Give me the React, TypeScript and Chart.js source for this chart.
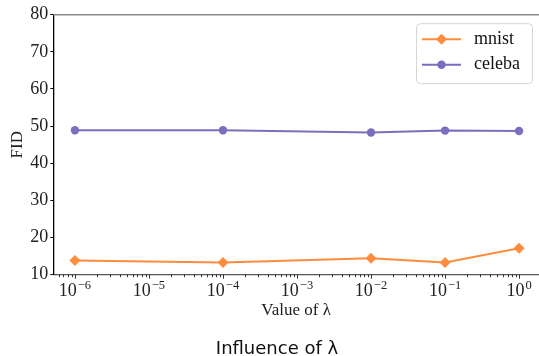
import React, { useEffect, useRef } from "react";
import { Chart, registerables } from "chart.js";

Chart.register(...registerables);

const lambdaValues = [1e-6, 1e-4, 1e-2, 1e-1, 1];
const mnistFid = [13.8, 13.3, 14.4, 13.3, 17.1];
const celebaFid = [48.9, 48.9, 48.3, 48.8, 48.7];
const seriesNames = ["mnist", "celeba"];
const majorTickValues = [1e-6, 1e-5, 1e-4, 1e-3, 1e-2, 1e-1, 1];
const xTickExponents = ["−6", "−5", "−4", "−3", "−2", "−1", "0"];
const minorMultipliers = [2, 3, 4, 5, 6, 7, 8, 9];
const minorDecades = [1e-7, 1e-6, 1e-5, 1e-4, 1e-3, 1e-2, 1e-1, 1];
const yTicks = [10, 20, 30, 40, 50, 60, 70, 80];

const ORANGE = "#ff8c3d";
const PURPLE = "#7a6ebd";
const SERIF = "'Liberation Serif', 'DejaVu Serif', serif";
const SANS = "'DejaVu Sans', sans-serif";

const X_MIN = 5.1e-7;
const X_MAX = 1.86;

const decorPlugin = {
  id: "decor",
  afterDraw(chart: any) {
    const ctx = chart.ctx;
    const area = chart.chartArea;
    const xs = chart.scales.x;
    ctx.save();
    // top spine
    ctx.strokeStyle = "#8a8a8a";
    ctx.lineWidth = 1.5;
    ctx.beginPath();
    ctx.moveTo(area.left, area.top);
    ctx.lineTo(area.right, area.top);
    ctx.stroke();
    // x ticks (major & minor)
    ctx.strokeStyle = "#333";
    ctx.lineWidth = 1;
    for (const t of xs.ticks) {
      const px = xs.getPixelForValue(t.value);
      if (px < area.left + 1 || px > area.right) continue;
      const len = t.major ? 4 : 2.5;
      ctx.beginPath();
      ctx.moveTo(Math.round(px) + 0.5, area.bottom);
      ctx.lineTo(Math.round(px) + 0.5, area.bottom + len);
      ctx.stroke();
    }
    // x tick labels 10^k
    ctx.fillStyle = "#222";
    ctx.textBaseline = "alphabetic";
    ctx.textAlign = "left";
    majorTickValues.forEach((v, i) => {
      const px = xs.getPixelForValue(v);
      ctx.font = `18px ${SERIF}`;
      const wb = ctx.measureText("10").width;
      ctx.font = `12.5px ${SERIF}`;
      const we = ctx.measureText(xTickExponents[i]).width;
      const x0 = px - (wb + we + 1) / 2;
      ctx.font = `18px ${SERIF}`;
      ctx.fillText("10", x0, area.bottom + 21);
      ctx.font = `12.5px ${SERIF}`;
      ctx.fillText(xTickExponents[i], x0 + wb + 1, area.bottom + 14);
    });
    // legend
    const bx = area.right - 123;
    const by = area.top + 8.5;
    const bw = 116;
    const bh = 60;
    ctx.fillStyle = "rgba(255,255,255,0.9)";
    ctx.strokeStyle = "#d6d6d6";
    ctx.lineWidth = 1;
    ctx.beginPath();
    (ctx as any).roundRect(bx + 0.5, by + 0.5, bw, bh, 4);
    ctx.fill();
    ctx.stroke();
    chart.data.datasets.forEach((ds: any, i: number) => {
      const cy = by + 16 + i * 25.5;
      const x0 = bx + 6;
      const x1 = bx + 45;
      ctx.strokeStyle = ds.borderColor;
      ctx.lineWidth = 2;
      ctx.beginPath();
      ctx.moveTo(x0, cy);
      ctx.lineTo(x1, cy);
      ctx.stroke();
      ctx.fillStyle = ds.backgroundColor;
      ctx.beginPath();
      const cx = (x0 + x1) / 2;
      if (ds.pointStyle === "rectRot") {
        const r = ds.pointRadius;
        ctx.moveTo(cx, cy - r);
        ctx.lineTo(cx + r, cy);
        ctx.lineTo(cx, cy + r);
        ctx.lineTo(cx - r, cy);
        ctx.closePath();
      } else {
        ctx.arc(cx, cy, ds.pointRadius, 0, Math.PI * 2);
      }
      ctx.fill();
      ctx.fillStyle = "#111";
      ctx.font = `18px ${SERIF}`;
      ctx.textAlign = "left";
      ctx.textBaseline = "middle";
      ctx.fillText(ds.label, bx + 58, cy);
    });
    // bottom title
    ctx.fillStyle = "#111";
    ctx.font = `18px ${SANS}`;
    ctx.textAlign = "center";
    ctx.textBaseline = "alphabetic";
    ctx.fillText("Influence of λ", 277, 354);
    ctx.restore();
  },
};

export default function App() {
  const ref = useRef<HTMLCanvasElement | null>(null);
  useEffect(() => {
    if (!ref.current) return;
    const chart = new Chart(ref.current, {
      type: "line",
      data: {
        datasets: [
          {
            label: seriesNames[0],
            data: lambdaValues.map((x, i) => ({ x, y: mnistFid[i] })),
            borderColor: ORANGE,
            backgroundColor: ORANGE,
            borderWidth: 2,
            pointStyle: "rectRot",
            pointRadius: 5.5,
            pointBorderWidth: 0,
            tension: 0,
          },
          {
            label: seriesNames[1],
            data: lambdaValues.map((x, i) => ({ x, y: celebaFid[i] })),
            borderColor: PURPLE,
            backgroundColor: PURPLE,
            borderWidth: 2,
            pointStyle: "circle",
            pointRadius: 4.2,
            pointBorderWidth: 0,
            tension: 0,
          },
        ],
      },
      options: {
        responsive: false,
        animation: false,
        layout: { autoPadding: false, padding: { top: 14.7, bottom: 33, left: 0, right: 0 } },
        plugins: {
          legend: { display: false },
          tooltip: { enabled: false },
          title: { display: false },
        },
        scales: {
          x: {
            type: "logarithmic",
            min: X_MIN,
            max: X_MAX,
            afterBuildTicks(scale: any) {
              const ticks: any[] = [];
              for (const d of minorDecades) {
                for (const m of [1, ...minorMultipliers]) {
                  const v = d * m;
                  if (v >= X_MIN && v <= X_MAX) ticks.push({ value: v, major: m === 1 });
                }
              }
              scale.ticks = ticks;
            },
            afterFit(scale: any) {
              scale.height = 48.3;
              scale.paddingLeft = 0;
              scale.paddingRight = 0;
            },
            grid: { display: true, drawOnChartArea: false, drawTicks: false },
            border: { display: true, color: "#555", width: 1.3 },
            ticks: { display: false, autoSkip: false, maxRotation: 0, minRotation: 0 },
            title: {
              display: true,
              text: "Value of λ",
              color: "#222",
              font: { family: SERIF, size: 17 },
              padding: { top: 0, bottom: 2 },
            },
          },
          y: {
            type: "linear",
            min: 10,
            max: 80,
            afterBuildTicks(scale: any) {
              scale.ticks = yTicks.map((v) => ({ value: v }));
            },
            afterFit(scale: any) {
              scale.width = 53.3;
            },
            grid: { display: true, drawOnChartArea: false, drawTicks: true, tickLength: 3, tickColor: "#111" },
            border: { display: true, color: "#000", width: 1.3 },
            ticks: {
              padding: 2,
              color: "#222",
              font: { family: SERIF, size: 18 },
            },
            title: {
              display: true,
              text: "FID",
              color: "#222",
              font: { family: SERIF, size: 17 },
              padding: { top: 7, bottom: 0 },
            },
          },
        },
      },
      plugins: [decorPlugin],
    } as any);
    return () => chart.destroy();
  }, []);
  return (
    <div style={{ position: "absolute", left: 0, top: 0, width: 539, height: 356, background: "#fff" }}>
      <canvas ref={ref} width={539} height={356} style={{ width: 539, height: 356, display: "block" }} />
    </div>
  );
}
